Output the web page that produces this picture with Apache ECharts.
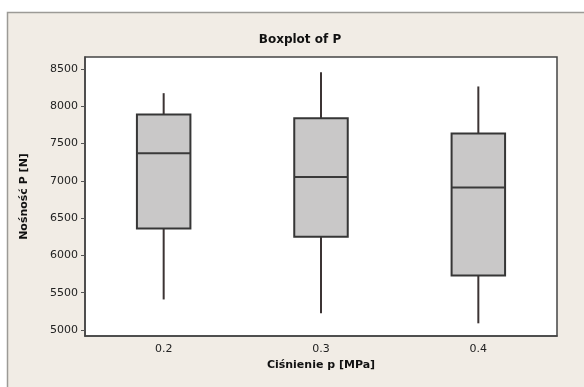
<!DOCTYPE html>
<html>
<head>
<meta charset="utf-8">
<script src="https://cdn.jsdelivr.net/npm/echarts@6/dist/echarts.min.js"></script>
<style>html,body{margin:0;padding:0;background:#fff;}#c{width:584px;height:387px;}</style>
</head>
<body>
<div id="c"></div>
<script>
var categories = ['0.2', '0.3', '0.4'];
var lowWhisker = [5410, 5225, 5090];
var q1 = [6360, 6250, 5730];
var median = [7370, 7050, 6910];
var q3 = [7890, 7840, 7635];
var highWhisker = [8175, 8455, 8265];
var yTicks = [5000, 5500, 6000, 6500, 7000, 7500, 8000, 8500];

var data = categories.map(function (c, i) {
  return [i, lowWhisker[i], q1[i], median[i], q3[i], highWhisker[i]];
});

var chart = echarts.init(document.getElementById('c'));
var font = '"DejaVu Sans", Verdana, sans-serif';
chart.setOption({
  backgroundColor: '#ffffff',
  animation: false,
  graphic: [{
    type: 'rect', z: -100, silent: true,
    shape: { x: 7.5, y: 12.5, width: 590, height: 390 },
    style: { fill: '#f1ece5', stroke: '#9c9a96', lineWidth: 1.5 }
  }],
  title: {
    text: 'Boxplot of P', left: 295, top: 29, textAlign: 'center',
    textStyle: { fontFamily: font, fontSize: 12, fontWeight: 'bold', color: '#111' }
  },
  grid: {
    left: 85, right: 27, top: 57, bottom: 51,
    show: true, backgroundColor: '#ffffff', borderColor: '#444', borderWidth: 1.5
  },
  xAxis: {
    type: 'category', data: categories,
    name: 'Ciśnienie p [MPa]', nameLocation: 'middle', nameGap: 23,
    nameTextStyle: { fontFamily: font, fontSize: 11, fontWeight: 'bold', color: '#111' },
    axisLine: { lineStyle: { color: '#444', width: 1.5 } },
    axisTick: { alignWithLabel: true, length: 4, lineStyle: { color: '#555' } },
    axisLabel: { fontFamily: font, fontSize: 11, color: '#222', margin: 8 },
    splitLine: { show: false }
  },
  yAxis: {
    type: 'value', min: 4920, max: 8660,
    name: 'Nośność P [N]', nameLocation: 'middle', nameGap: 55, nameRotate: 90,
    nameTextStyle: { fontFamily: font, fontSize: 11, fontWeight: 'bold', color: '#111' },
    axisLine: { show: true, lineStyle: { color: '#444', width: 1.5 } },
    axisTick: { show: true, length: 4, customValues: yTicks, lineStyle: { color: '#555' } },
    axisLabel: { fontFamily: font, fontSize: 11, color: '#222', margin: 7, customValues: yTicks,
      formatter: function (v) { return String(v); } },
    splitLine: { show: false }
  },
  series: [{
    type: 'custom',
    data: data,
    encode: { x: 0, y: [1, 2, 3, 4, 5] },
    renderItem: function (params, api) {
      var i = api.value(0);
      var lo = api.coord([i, api.value(1)]);
      var b1 = api.coord([i, api.value(2)]);
      var md = api.coord([i, api.value(3)]);
      var b3 = api.coord([i, api.value(4)]);
      var hi = api.coord([i, api.value(5)]);
      var w = api.size([1, 0])[0] * 0.34;
      var x = lo[0];
      var stroke = '#3c3434';
      return {
        type: 'group',
        children: [
          { type: 'line', shape: { x1: x, y1: hi[1], x2: x, y2: b3[1] }, style: { stroke: stroke, lineWidth: 2 } },
          { type: 'line', shape: { x1: x, y1: b1[1], x2: x, y2: lo[1] }, style: { stroke: stroke, lineWidth: 2 } },
          { type: 'rect', shape: { x: x - w / 2, y: b3[1], width: w, height: b1[1] - b3[1] },
            style: { fill: '#c9c8c8', stroke: '#363636', lineWidth: 2 } },
          { type: 'line', shape: { x1: x - w / 2, y1: md[1], x2: x + w / 2, y2: md[1] }, style: { stroke: '#3a3a3a', lineWidth: 2 } }
        ]
      };
    }
  }]
});
</script>
</body>
</html>
